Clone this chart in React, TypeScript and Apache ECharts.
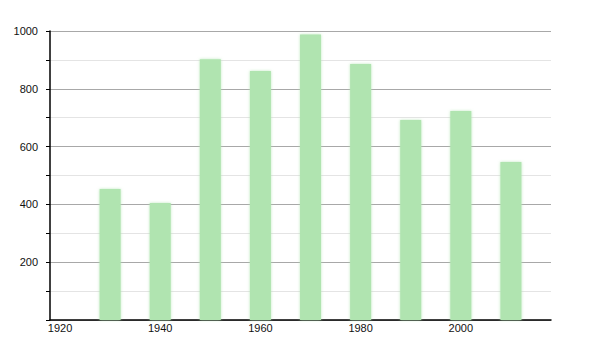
import React, { useEffect, useRef } from "react";
import * as echarts from "echarts";

const years = [1930, 1940, 1950, 1960, 1970, 1980, 1990, 2000, 2010];
const values = [453, 405, 902, 862, 988, 886, 692, 723, 547];
const xTickLabels = [1920, 1940, 1960, 1980, 2000];

export default function App() {
  const ref = useRef<HTMLDivElement>(null);
  useEffect(() => {
    if (!ref.current) return;
    const chart = echarts.init(ref.current, null, { renderer: "svg" });
    chart.setOption({
      animation: false,
      backgroundColor: "#ffffff",
      grid: { left: 50, right: 49, top: 31, bottom: 30, containLabel: false },
      xAxis: {
        type: "value",
        min: 1918,
        max: 2018,
        axisLine: { show: true, onZero: false, lineStyle: { color: "#000", width: 1.5 } },
        axisTick: { show: false },
        splitLine: { show: false },
        axisLabel: {
          customValues: xTickLabels,
          color: "#111",
          fontFamily: "Liberation Sans, Arial, sans-serif",
          fontSize: 11,
          margin: 2,
          formatter: (v: number) => String(v),
        },
      },
      yAxis: {
        type: "value",
        min: 0,
        max: 1000,
        interval: 200,
        axisLine: { show: true, lineStyle: { color: "#000", width: 1.5 } },
        axisTick: { show: true, length: 4, lineStyle: { color: "#000" } },
        minorTick: { show: true, splitNumber: 2, length: 4, lineStyle: { color: "#000" } },
        splitLine: { show: true, lineStyle: { color: "#a8a8a8", width: 1 } },
        minorSplitLine: { show: true, lineStyle: { color: "#e4e4e4", width: 1 } },
        axisLabel: {
          color: "#111",
          fontFamily: "Liberation Sans, Arial, sans-serif",
          fontSize: 11,
          margin: 12,
          formatter: (v: number) => (v === 0 ? "" : String(v)),
        },
      },
      series: [
        {
          type: "bar",
          data: years.map((y, i) => [y, values[i]]),
          barWidth: 21,
          itemStyle: {
            color: "#b0e4b0",
            shadowBlur: 3,
            shadowColor: "rgba(176,228,176,0.8)",
          },
        },
      ],
    });
    return () => chart.dispose();
  }, []);
  return <div ref={ref} style={{ width: 600, height: 350, position: "absolute", left: 0, top: 0 }} />;
}
